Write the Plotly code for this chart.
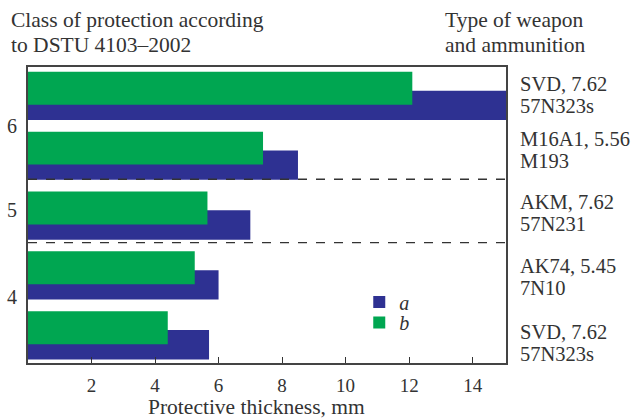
import plotly.graph_objects as go

# Data (bottom to top)
weapon_line1 = ["SVD, 7.62", "AK74, 5.45", "AKM, 7.62", "M16A1, 5.56", "SVD, 7.62"]
weapon_line2 = ["57N323s", "7N10", "57N231", "M193", "57N323s"]
weapon_label_pos = [-0.12, 0.97, 2.04, 3.1, 4.02]
series_a = [5.7, 6.0, 7.0, 8.5, 15.3]   # blue
series_b = [4.4, 5.25, 5.65, 7.4, 12.1]  # green
class_labels = ["4", "5", "6"]
class_label_pos = [0.65, 2.1, 3.5]
class_bounds = [1.55, 2.61]
x_ticks = [2, 4, 6, 8, 10, 12, 14]

BLUE = "#2E3192"
GREEN = "#00A651"
TXT = "#333333"
FONT = "Liberation Serif"

pos = list(range(len(series_a)))

fig = go.Figure()
fig.add_trace(go.Bar(y=pos, x=series_a, orientation="h", name="<i>a</i>",
                     marker=dict(color=BLUE, line=dict(width=0)),
                     width=0.49, offset=-0.40, legend="legend"))
fig.add_trace(go.Bar(y=pos, x=series_b, orientation="h", name="<i>b</i>",
                     marker=dict(color=GREEN, line=dict(width=0)),
                     width=0.55, offset=-0.145, legend="legend2"))

for b in class_bounds:
    fig.add_shape(type="line", xref="paper", yref="y", x0=0, x1=1, y0=b, y1=b,
                  line=dict(color="#333333", width=1.3, dash="dash"))

annotations = []
for lab, p in zip(class_labels, class_label_pos):
    annotations.append(dict(text=lab, xref="paper", yref="y", x=0, y=p,
                            xanchor="right", yanchor="middle", xshift=-9,
                            showarrow=False, font=dict(family=FONT, size=20, color=TXT)))
for l1, l2, p in zip(weapon_line1, weapon_line2, weapon_label_pos):
    for txt, ys in ((l1, 11), (l2, -11)):
        annotations.append(dict(text=txt, xref="paper", yref="y", x=1, y=p, yshift=ys,
                                xanchor="left", yanchor="middle", xshift=12, align="left",
                                showarrow=False, font=dict(family=FONT, size=20.5, color=TXT)))
for txt, ys in (("Class of protection according", 47), ("to DSTU 4103–2002", 22)):
    annotations.append(dict(text=txt, xref="paper", yref="paper", x=0, y=1, yshift=ys,
                            xshift=-19, xanchor="left", yanchor="middle", showarrow=False,
                            font=dict(family=FONT, size=21.5, color=TXT)))
for txt, ys in (("Type of weapon", 47), ("and ammunition", 22)):
    annotations.append(dict(text=txt, xref="paper", yref="paper", x=1, y=1, yshift=ys,
                            xshift=-63, xanchor="left", yanchor="middle", showarrow=False,
                            font=dict(family=FONT, size=21.5, color=TXT)))
annotations.append(dict(text="Protective thickness, mm", xref="paper", yref="paper",
                        x=0.477, y=0, yshift=-44, xanchor="center", yanchor="middle",
                        showarrow=False, font=dict(family=FONT, size=21.5, color=TXT)))

legend_style = dict(xanchor="left", yanchor="top", bgcolor="rgba(0,0,0,0)",
                    font=dict(family=FONT, size=20, color=TXT))
fig.update_layout(
    width=631, height=420,
    margin=dict(l=28, r=125, t=67, b=57),
    paper_bgcolor="white", plot_bgcolor="white",
    barmode="overlay",
    showlegend=True,
    legend=dict(x=0.693, y=0.272, **legend_style),
    legend2=dict(x=0.693, y=0.203, **legend_style),
    annotations=annotations,
    font=dict(family=FONT, color=TXT),
)
fig.update_xaxes(range=[0, 15.05], tickvals=x_ticks, ticks="inside", ticklen=6,
                 tickcolor="#333333", showgrid=False, zeroline=False,
                 showline=True, linecolor="#444444", linewidth=1.5, mirror=True,
                 ticklabelstandoff=4,
                 tickfont=dict(family=FONT, size=19, color=TXT))
fig.update_yaxes(range=[-0.46, 4.485], tickvals=class_bounds, ticktext=["", ""],
                 ticks="inside", ticklen=6, tickcolor="#333333", showgrid=False,
                 zeroline=False, showline=True, linecolor="#444444", linewidth=1.5,
                 mirror=True)

fig.write_html("out.html")
